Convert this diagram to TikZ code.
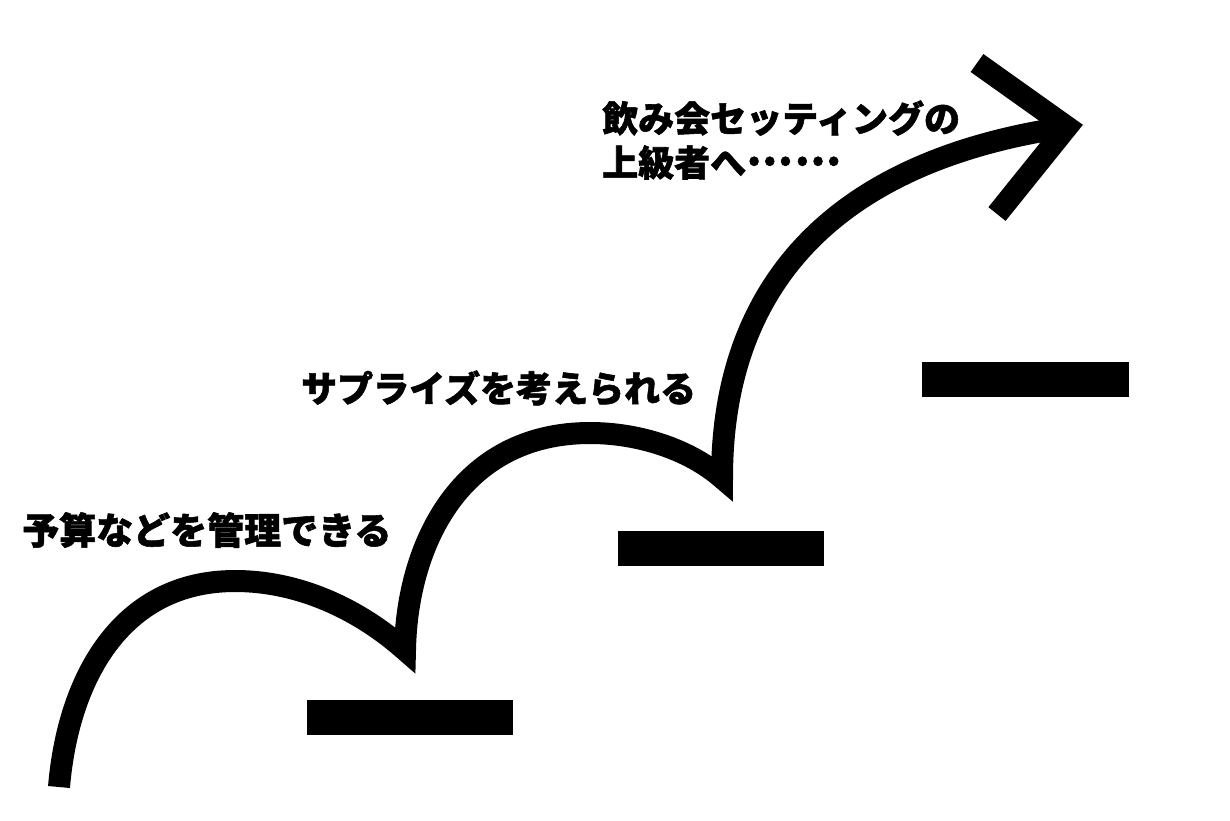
\documentclass[tikz,border=0pt]{standalone}
\usepackage{fontspec}
\IfFontExistsTF{Noto Sans CJK JP Black}{\newfontfamily\jp{Noto Sans CJK JP Black}[FakeBold=1.5]}{%
  \IfFontExistsTF{Noto Sans CJK JP Bold}{\newfontfamily\jp{Noto Sans CJK JP Bold}[FakeBold=2.5]}{%
    \newfontfamily\jp{Noto Sans CJK JP}[FakeBold=4]}}
\begin{document}
\begin{tikzpicture}[x=1pt,y=-1pt,
  curve/.style={line width=22pt, line join=miter, miter limit=10, line cap=butt},
  stepbar/.style={fill=black, draw=none, inner sep=0pt, minimum height=35pt},
  lbl/.style={anchor=west, inner sep=0pt, font=\jp\fontsize{36}{44}\selectfont, align=left}]
\useasboundingbox (0,0) rectangle (1230,820);
% coordinates of the path
\coordinate (s0) at (59,787);
\coordinate (p1) at (235,581);
\coordinate (c1) at (405,650);
\coordinate (p2) at (590,433);
\coordinate (c2) at (722,478);
\coordinate (tipc) at (1067,127);
\coordinate (armA) at (977,63);
\coordinate (armB) at (997,214);
% steps
\node[stepbar, minimum width=206pt] (st1) at (410,717.5) {};
\node[stepbar, minimum width=206pt] (st2) at (721,548.5) {};
\node[stepbar, minimum width=207pt] (st3) at (1025.5,379.5) {};
% curve
\draw[curve] (s0) .. controls (68,680) and (120,581) .. (p1)
  .. controls (300,581) and (360,610) .. (c1)
  .. controls (407,545) and (460,433) .. (p2)
  .. controls (640,433) and (690,450) .. (c2)
  .. controls (722,280) and (840,160) .. (tipc);
\draw[curve] (armA) -- (tipc) -- (armB);
% labels
\node[lbl, font=\jp\fontsize{37}{44}\selectfont] (t1) at (22,530) {予算などを管理できる};
\node[lbl] (t2) at (301,388) {サプライズを考えられる};
\node[lbl] (t3) at (602,140) {飲み会セッティングの\\上級者へ\raisebox{0.3em}{\scalebox{1.15}{…\kern1.5pt…}}};
\end{tikzpicture}
\end{document}
